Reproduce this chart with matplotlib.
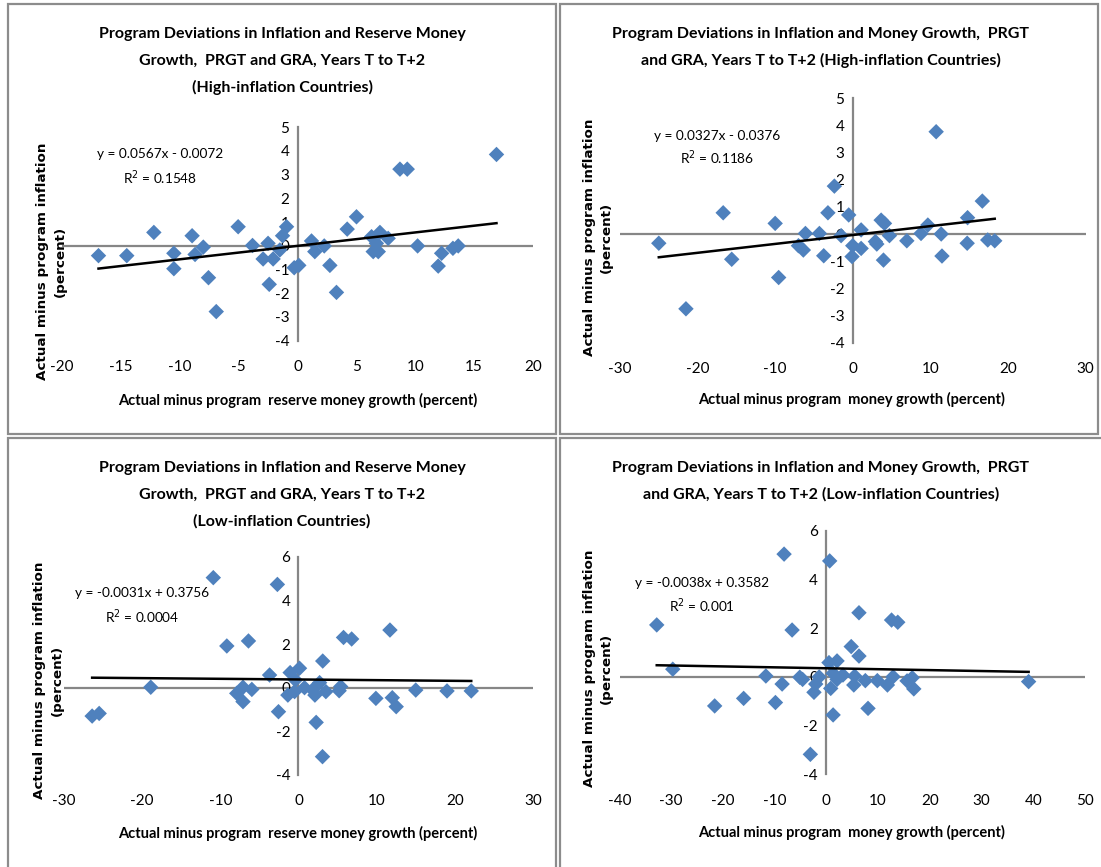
import matplotlib
matplotlib.use('Agg')
import matplotlib.pyplot as plt
from matplotlib.patches import Rectangle
import numpy as np

plt.rcParams['axes.unicode_minus'] = False

# ---------------- data ----------------
# Panel 1: reserve money growth vs inflation, high-inflation countries
p1_x = [-16.9, -14.5, -12.2, -10.5, -10.5, -8.95, -8.7, -8.0, -7.56, -6.9, -5.04, -3.82,
        -2.92, -2.5, -2.4, -2.07, -1.5, -1.27, -0.93, -0.28, 0.11, 1.19, 1.47, 2.27, 2.75,
        3.31, 4.22, 5.01, 6.29, 6.43, 6.86, 7.0, 7.7, 8.7, 9.32, 10.2, 11.95, 12.24, 13.2,
        13.65, 16.9, 6.7]
p1_y = [-0.42, -0.42, 0.56, -0.32, -0.97, 0.42, -0.37, -0.06, -1.35, -2.78, 0.80, 0.01,
        -0.56, 0.10, -1.63, -0.56, -0.18, 0.42, 0.80, -0.93, -0.83, 0.20, -0.25, -0.01, -0.83,
        -1.97, 0.70, 1.22, 0.38, -0.25, -0.25, 0.56, 0.31, 3.23, 3.23, -0.01, -0.86, -0.32, -0.11,
        -0.01, 3.85, 0.10]

# Panel 2: money growth vs inflation, high-inflation countries
p2_x = [-25.0, -21.5, -16.7, -15.6, -10.0, -9.55, -7.0, -6.37, -6.1, -4.3, -3.74, -3.2,
        -2.37, -1.5, -0.52, 0.0, -0.09, 1.08, 1.08, 2.92, 3.1, 3.66, 4.09, 3.96, 4.73, 6.97,
        8.8, 9.68, 11.4, 10.75, 11.5, 14.75, 14.8, 16.7, 17.4, 18.3]
p2_y = [-0.34, -2.75, 0.78, -0.93, 0.39, -1.6, -0.43, -0.59, 0.02, 0.02, -0.8, 0.78,
        1.76, -0.06, 0.70, -0.43, -0.83, 0.15, -0.53, -0.28, -0.37, 0.51, 0.39, -0.96, -0.06,
        -0.25, 0.02, 0.33, 0.0, 3.76, -0.81, -0.34, 0.60, 1.21, -0.22, -0.25]

# Panel 3: reserve money growth vs inflation, low-inflation countries
p3_x = [-26.4, -25.5, -18.9, -10.9, -9.17, -7.9, -7.1, -7.1, -6.4, -5.97, -3.7, -2.7,
        -2.56, -1.36, -1.07, -0.5, 0.13, -0.4, 0.77, 1.8, 2.1, 2.26, 2.7, 3.1, 3.07, 3.5,
        5.2, 5.4, 5.76, 6.8, 9.9, 11.7, 12.0, 12.5, 15.0, 19.0, 22.1]
p3_y = [-1.30, -1.18, 0.02, 5.04, 1.91, -0.26, 0.02, -0.64, 2.14, -0.08, 0.58, 4.73,
        -1.10, -0.34, 0.69, -0.18, 0.89, 0.35, 0.0, -0.10, -0.34, -1.59, 0.23, 1.22, -3.16, -0.18,
        -0.14, 0.05, 2.30, 2.23, -0.49, 2.64, -0.46, -0.87, -0.11, -0.15, -0.15]

# Panel 4: money growth vs inflation, low-inflation countries
p4_x = [-32.8, -29.7, -21.6, -16.0, -11.7, -9.85, -8.56, -8.18, -6.63, -5.15, -4.6, -3.1,
        -2.4, -2.06, -1.4, 0.5, 0.64, 0.84, 1.3, 1.3, 2.06, 2.06, 3.2, 4.8, 5.3, 5.47, 6.3,
        6.3, 7.53, 8.05, 9.85, 11.8, 12.6, 12.9, 13.8, 15.6, 16.6, 16.9, 39.1]
p4_y = [2.14, 0.32, -1.19, -0.88, 0.04, -1.05, -0.29, 5.05, 1.93, -0.01, -0.10, -3.18,
        -0.63, -0.29, 0.0, 0.59, 4.77, -0.47, -1.56, 0.15, 0.66, -0.10, 0.08, 1.25, -0.33, 0.04,
        2.64, 0.86, -0.15, -1.29, -0.15, -0.33, 2.34, 0.01, 2.25, -0.16, -0.03, -0.49, -0.19]

# Trend line coefficients (as printed on the chart)
trend_slope = [0.0567, 0.0327, -0.0031, -0.0038]
trend_icpt = [-0.0072, -0.0376, 0.3756, 0.3582]
trend_eq = ["y = 0.0567x - 0.0072", "y = 0.0327x - 0.0376",
            "y = -0.0031x + 0.3756", "y = -0.0038x + 0.3582"]
trend_r2 = ["R$^2$ = 0.1548", "R$^2$ = 0.1186", "R$^2$ = 0.0004", "R$^2$ = 0.001"]

titles = [
    ["Program Deviations in Inflation and Reserve Money",
     "Growth,  PRGT and GRA, Years T to T+2", "(High-inflation Countries)"],
    ["Program Deviations in Inflation and Money Growth,  PRGT",
     "and GRA, Years T to T+2 (High-inflation Countries)"],
    ["Program Deviations in Inflation and Reserve Money",
     "Growth,  PRGT and GRA, Years T to T+2", "(Low-inflation Countries)"],
    ["Program Deviations in Inflation and Money Growth,  PRGT",
     "and GRA, Years T to T+2 (Low-inflation Countries)"],
]
xlabels = ["Actual minus program  reserve money growth (percent)",
           "Actual minus program  money growth (percent)",
           "Actual minus program  reserve money growth (percent)",
           "Actual minus program  money growth (percent)"]
ylabel_lines = ["Actual minus program inflation", "(percent)"]

x_ticks = [[-20, -15, -10, -5, 0, 5, 10, 15, 20],
           [-30, -20, -10, 0, 10, 20, 30],
           [-30, -20, -10, 0, 10, 20, 30],
           [-40, -30, -20, -10, 0, 10, 20, 30, 40, 50]]
y_ticks = [[-4, -3, -2, -1, 0, 1, 2, 3, 4, 5],
           [-4, -3, -2, -1, 0, 1, 2, 3, 4, 5],
           [-4, -2, 0, 2, 4, 6],
           [-4, -2, 0, 2, 4, 6]]

# ---------------- layout (pixels) ----------------
W, H = 1101, 867
fig = plt.figure(figsize=(W / 100, H / 100), dpi=100)

def fx(x):
    return x / W

def fy(y):
    return 1 - y / H

NARROW = ['Lato', 'Liberation Sans', 'DejaVu Sans']
WIDE = ['DejaVu Sans']
BLUE = '#4F81BD'
GRAY = '#868686'

# frames
frames = [(8, 4, 556, 434), (560, 4, 1098, 434), (8, 438, 556, 880), (560, 438, 1120, 880)]
for (l, t, r, b) in frames:
    fig.patches.append(Rectangle((fx(l), fy(b)), fx(r) - fx(l), fy(t) - fy(b),
                                 transform=fig.transFigure, fill=False,
                                 edgecolor='#8c8c8c', linewidth=1.6, zorder=0))

# axes rectangles: left, right, top, bottom in pixels
ax_px = [(62, 533, 127.2, 340.5),
         (620, 1085.5, 98, 342.8),
         (64, 533, 556.7, 775),
         (619.5, 1085, 531, 774.3)]
xlims = [(-20, 20), (-30, 30), (-30, 30), (-40, 50)]
ylims = [(-4, 5), (-4, 5), (-4, 6), (-4, 6)]

title_pos = [(282, 34), (821, 34), (282, 468), (821, 468)]
title_step = 26.5
xlabel_pos = [(298, 400), (852, 399), (298, 833), (852, 832)]
# (x of line 1, x of line 2, vertical centre)
ylabel_pos = [(43, 60, 261), (590, 606, 237), (40, 57, 680), (590, 606, 668)]
eq_pos = [(160, 154, 178), (717, 136, 158), (142, 593, 617), (702, 583, 606)]

xs = [p1_x, p2_x, p3_x, p4_x]
ys = [p1_y, p2_y, p3_y, p4_y]

for i in range(4):
    l, r, t, b = ax_px[i]
    ax = fig.add_axes([fx(l), fy(b), fx(r) - fx(l), fy(t) - fy(b)])
    ax.set_xlim(*xlims[i])
    ax.set_ylim(*ylims[i])
    ax.patch.set_alpha(0)
    for s in ['top', 'right', 'bottom']:
        ax.spines[s].set_visible(False)
    ax.spines['left'].set_position(('data', 0))
    ax.spines['left'].set_color(GRAY)
    ax.spines['left'].set_linewidth(1.6)
    ax.axhline(0, color=GRAY, linewidth=1.6, zorder=1)
    ax.set_xticks(x_ticks[i])
    ax.set_yticks(y_ticks[i])
    ax.tick_params(axis='x', length=0, pad=14, labelsize=11)
    ax.tick_params(axis='y', length=0, pad=6, labelsize=11)
    for lab in ax.get_xticklabels() + ax.get_yticklabels():
        lab.set_family(NARROW)

    ax.scatter(xs[i], ys[i], marker='D', s=62, color=BLUE, edgecolors='none',
               zorder=3, clip_on=False)
    xmin, xmax = min(xs[i]), max(xs[i])
    tx = np.array([xmin, xmax])
    ax.plot(tx, trend_slope[i] * tx + trend_icpt[i], color='black', linewidth=1.8, zorder=4)

    # texts
    tx_, ty_ = title_pos[i]
    for k, line in enumerate(titles[i]):
        fig.text(fx(tx_), fy(ty_ + k * title_step), line, ha='center', va='center',
                 fontsize=11.5, fontweight='bold', family=NARROW)
    fig.text(fx(xlabel_pos[i][0]), fy(xlabel_pos[i][1]), xlabels[i], ha='center',
             va='center', fontsize=10.5, fontweight='bold', family=NARROW)
    yl1, yl2, yc = ylabel_pos[i]
    fig.text(fx(yl1), fy(yc), ylabel_lines[0], ha='center', va='center',
             rotation=90, fontsize=9.7, fontweight='bold', family=WIDE)
    fig.text(fx(yl2), fy(yc), ylabel_lines[1], ha='center', va='center',
             rotation=90, fontsize=9.7, fontweight='bold', family=WIDE)
    ex, ey1, ey2 = eq_pos[i]
    fig.text(fx(ex), fy(ey1), trend_eq[i], ha='center', va='center', fontsize=9.8,
             family=NARROW)
    fig.text(fx(ex), fy(ey2), trend_r2[i], ha='center', va='center', fontsize=9.8,
             family=NARROW)

fig.savefig('out.png', dpi=100)
